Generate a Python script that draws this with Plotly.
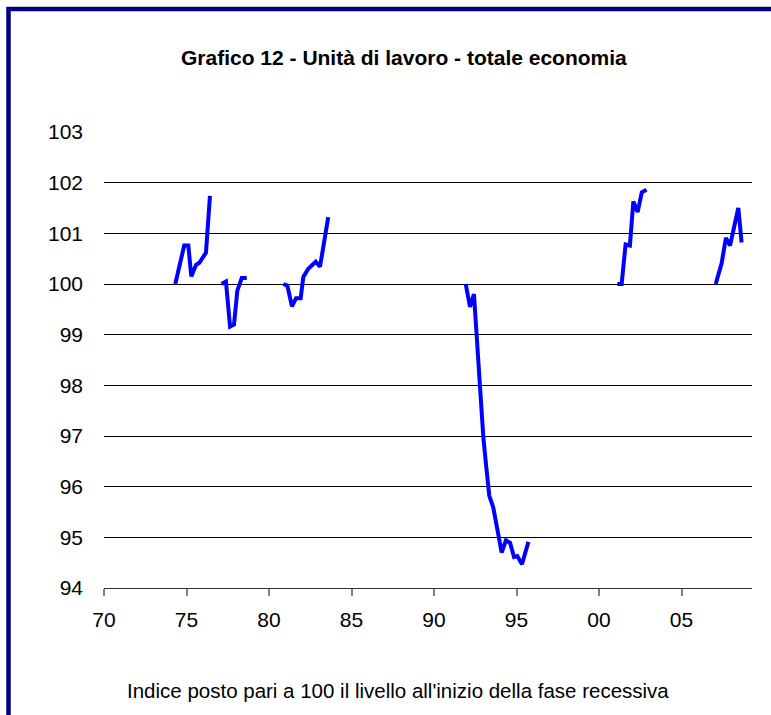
import plotly.graph_objects as go

# Episodes (x = decimal year, 1900-based; y = index, 100 at start of recession)
ep1_x = [74.32, 74.86, 75.11, 75.29, 75.58, 75.78, 76.18, 76.42]
ep1_y = [100.0, 100.76, 100.76, 100.15, 100.38, 100.42, 100.62, 101.74]

ep2_x = [77.13, 77.39, 77.64, 77.88, 78.08, 78.35, 78.65]
ep2_y = [100.0, 100.05, 99.16, 99.20, 99.87, 100.12, 100.12]

ep3_x = [80.87, 81.11, 81.39, 81.64, 81.92, 82.08, 82.38, 82.83, 83.09, 83.29, 83.59]
ep3_y = [100.0, 99.97, 99.56, 99.72, 99.72, 100.14, 100.30, 100.44, 100.34, 100.72, 101.32]

ep4_x = [91.92, 92.18, 92.42, 92.73, 92.99, 93.15, 93.35, 93.59, 94.10, 94.36, 94.61, 94.85, 95.05, 95.33, 95.72]
ep4_y = [100.0, 99.55, 99.80, 98.15, 96.97, 96.44, 95.82, 95.59, 94.70, 94.94, 94.89, 94.61, 94.63, 94.47, 94.91]

ep5_x = [101.11, 101.37, 101.61, 101.87, 102.08, 102.34, 102.59, 102.88]
ep5_y = [100.0, 100.0, 100.78, 100.76, 101.63, 101.42, 101.81, 101.86]

ep6_x = [107.07, 107.43, 107.69, 107.94, 108.44, 108.64]
ep6_y = [100.0, 100.41, 100.91, 100.76, 101.50, 100.82]

x_tickvals = [70, 75, 80, 85, 90, 95, 100, 105]
x_ticktext = ["70", "75", "80", "85", "90", "95", "00", "05"]
y_tickvals = [94, 95, 96, 97, 98, 99, 100, 101, 102, 103]

title_text = "Grafico 12 - Unità di lavoro - totale economia"
note_text = "Indice posto pari a 100 il livello all'inizio della fase recessiva"

xs, ys = [], []
for ex, ey in [(ep1_x, ep1_y), (ep2_x, ep2_y), (ep3_x, ep3_y),
               (ep4_x, ep4_y), (ep5_x, ep5_y), (ep6_x, ep6_y)]:
    xs += ex + [None]
    ys += ey + [None]

FONT = "Liberation Sans, Arial, sans-serif"

fig = go.Figure()
fig.add_trace(go.Scatter(x=xs, y=ys, mode="lines", connectgaps=False,
                         line=dict(color="#0000FF", width=4), hoverinfo="skip",
                         showlegend=False))

W, H = 771, 715
L, R, T, B = 104, 19, 132, 127
pw, ph = W - L - R, H - T - B

def px(x):
    return (x - L) / pw

def py(y):
    return (H - B - y) / ph

fig.update_layout(
    width=W, height=H,
    margin=dict(l=L, r=R, t=T, b=B),
    paper_bgcolor="white", plot_bgcolor="white",
    font=dict(family=FONT, color="black"),
    xaxis=dict(range=[70, 109.27], tickvals=x_tickvals, ticktext=x_ticktext,
               showgrid=False, zeroline=False, showline=True, linecolor="#333333",
               linewidth=1, ticks="outside", ticklen=7, tickcolor="#808080",
               tickwidth=2, tickfont=dict(size=21, family=FONT), ticklabelstandoff=6),
    yaxis=dict(range=[94, 103], tickvals=y_tickvals, showgrid=True,
               gridcolor="black", gridwidth=1, zeroline=False, showline=False,
               ticks="", tickfont=dict(size=21, family=FONT), ticklabelstandoff=20),
    shapes=[dict(type="rect", xref="paper", yref="paper",
                 x0=px(8.5), x1=px(W + 20), y0=py(H + 20), y1=py(9),
                 line=dict(color="#000080", width=4.5), fillcolor="rgba(0,0,0,0)",
                 layer="above")],
    annotations=[
        dict(text="<b>" + title_text + "</b>", xref="paper", yref="paper",
             x=px(404), y=py(57), showarrow=False, xanchor="center", yanchor="middle",
             font=dict(size=21, family=FONT, color="black")),
        dict(text=note_text, xref="paper", yref="paper",
             x=px(398), y=py(690), showarrow=False, xanchor="center", yanchor="middle",
             font=dict(size=20.5, family=FONT, color="black")),
    ],
)

fig.write_html("out.html", config={"displayModeBar": False},
               post_script="document.body.style.margin='0';document.body.style.overflow='hidden';")
